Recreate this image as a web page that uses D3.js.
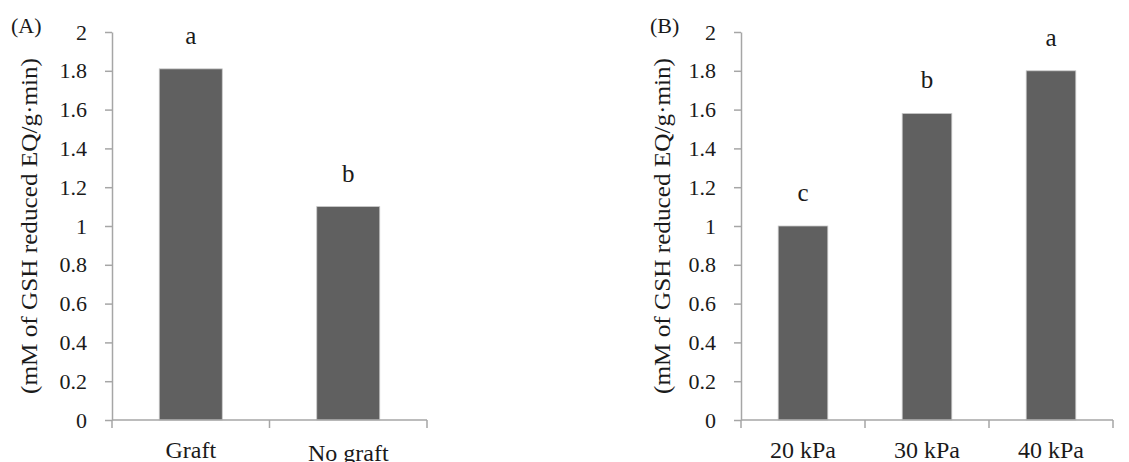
<!DOCTYPE html>
<html>
<head>
<meta charset="utf-8">
<script src="https://cdn.jsdelivr.net/npm/d3@7"></script>
<style>
  body { margin: 0; background: #fff; }
  svg text { font-family: 'Liberation Serif', 'Times New Roman', serif !important; fill: #1a1a1a; }
</style>
</head>
<body>
<div id="container"></div>
<script>
// panel A
var catsA = ["Graft", "No graft"];
var valsA = [1.81, 1.1];
var lettersA = ["a", "b"];
// panel B
var catsB = ["20 kPa", "30 kPa", "40 kPa"];
var valsB = [1.0, 1.58, 1.8];
var lettersB = ["c", "b", "a"];

var yTicks = [0, 0.2, 0.4, 0.6, 0.8, 1, 1.2, 1.4, 1.6, 1.8, 2];
var yLabel = "(mM of GSH reduced EQ/g\u00b7min)";

var width = 1129, height = 462;
var axisColor = "#a6a6a6", barColor = "#606060";
var serif = "'Liberation Serif', serif";

var svg = d3.select("#container").append("svg")
    .attr("width", width)
    .attr("height", height);

function panel(tag, cats, vals, letters, x0, x1, labelX, tagX, catDy) {
  var y = d3.scaleLinear().domain([0, 2]).range([420, 32]);
  var x = d3.scaleBand().domain(cats).range([x0, x1])
      .paddingInner(0.6).paddingOuter(0.3);

  var g = svg.append("g").attr("font-family", serif);

  // bars
  g.selectAll("rect.bar")
    .data(cats)
    .enter().append("rect")
      .attr("class", "bar")
      .attr("x", d => x(d))
      .attr("width", x.bandwidth())
      .attr("y", (d, i) => y(vals[i]))
      .attr("height", (d, i) => y(0) - y(vals[i]))
      .attr("fill", barColor)
      .attr("stroke", "#c8c8c8")
      .attr("stroke-width", 0.8);

  // y axis
  var yAxis = d3.axisLeft(y)
      .tickValues(yTicks)
      .tickFormat(d => d3.format("~g")(d))
      .tickSize(7)
      .tickSizeOuter(0)
      .tickPadding(18);
  var ya = g.append("g").attr("transform", "translate(" + x0 + ",0)").call(yAxis)
      .attr("font-family", serif).attr("font-size", 22);
  ya.select(".domain").attr("stroke", axisColor).attr("stroke-width", 1.5);
  ya.selectAll(".tick line").attr("stroke", axisColor).attr("stroke-width", 1.5);
  ya.selectAll(".tick text").attr("fill", "#1a1a1a");

  // x axis line and category dividers
  g.append("line")
      .attr("x1", x0).attr("x2", x1)
      .attr("y1", y(0)).attr("y2", y(0))
      .attr("stroke", axisColor).attr("stroke-width", 1.5);
  var step = x.step();
  var divs = d3.range(cats.length + 1).map(i => x0 + i * step);
  g.selectAll("line.div")
    .data(divs)
    .enter().append("line")
      .attr("class", "div")
      .attr("x1", d => d).attr("x2", d => d)
      .attr("y1", y(0)).attr("y2", y(0) + 8)
      .attr("stroke", axisColor).attr("stroke-width", 1.5);

  // category labels
  g.selectAll("text.cat")
    .data(cats)
    .enter().append("text")
      .attr("class", "cat")
      .attr("x", d => x(d) + x.bandwidth() / 2)
      .attr("y", (d, i) => 458 + (catDy ? catDy[i] : 0))
      .attr("text-anchor", "middle")
      .attr("font-size", 24)
      .text(d => d);

  // significance letters
  g.selectAll("text.letter")
    .data(cats)
    .enter().append("text")
      .attr("class", "letter")
      .attr("x", d => x(d) + x.bandwidth() / 2)
      .attr("y", (d, i) => y(vals[i]) - 25)
      .attr("text-anchor", "middle")
      .attr("font-size", 25)
      .text((d, i) => letters[i]);

  // y label
  g.append("text")
      .attr("transform", "translate(" + labelX + ",226) rotate(-90)")
      .attr("text-anchor", "middle")
      .attr("textLength", 336)
      .attr("lengthAdjust", "spacingAndGlyphs")
      .attr("font-size", 24)
      .text(yLabel);

  // panel tag
  g.append("text")
      .attr("x", tagX).attr("y", 33)
      .attr("font-size", 22)
      .text(tag);
}

panel("(A)", catsA, valsA, lettersA, 112, 427, 37, 11, [0, 3]);
panel("(B)", catsB, valsB, lettersB, 741, 1113, 670, 650, null);
</script>
</body>
</html>
